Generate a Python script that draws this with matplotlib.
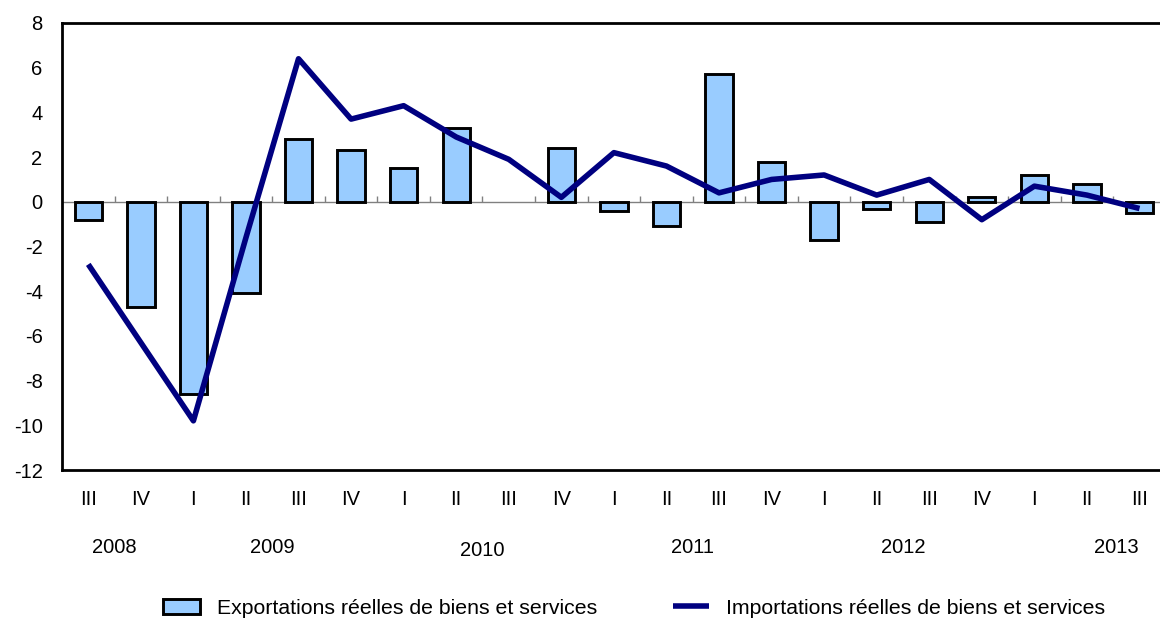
import numpy as np
import matplotlib.pyplot as plt

plt.rcParams['font.family'] = ['Liberation Sans', 'DejaVu Sans']
plt.rcParams['axes.unicode_minus'] = False

trimestres = ['III', 'IV', 'I', 'II', 'III', 'IV', 'I', 'II', 'III', 'IV', 'I',
              'II', 'III', 'IV', 'I', 'II', 'III', 'IV', 'I', 'II', 'III']
annees = ['2008', '2009', '2010', '2011', '2012', '2013']
pos_annees = [0.5, 3.5, 7.5, 11.5, 15.5, 19.55]
exportations = [-0.8, -4.7, -8.6, -4.1, 2.8, 2.3, 1.5, 3.3, 0.0, 2.4, -0.4,
                -1.1, 5.7, 1.8, -1.7, -0.3, -0.9, 0.2, 1.2, 0.8, -0.5]
importations = [-2.8, -6.3, -9.8, -1.6, 6.4, 3.7, 4.3, 2.9, 1.9, 0.2, 2.2,
                1.6, 0.4, 1.0, 1.2, 0.3, 1.0, -0.8, 0.7, 0.3, -0.3]

x = np.arange(len(trimestres))
fs = 14.5

fig = plt.figure(figsize=(11.6, 6.19), dpi=100)
ax = fig.add_axes([62 / 1160, 1 - 470 / 619, 1 - 62 / 1160, 447 / 619])

ax.axhline(0, color='#808080', lw=1, zorder=1)
ax.vlines(x[:-1] + 0.5, 0, 0.28, color='#808080', lw=1, zorder=1)

# pas de barre pour les valeurs nulles
exp = np.array(exportations)
nz = exp != 0
bars = ax.bar(x[nz], exp[nz], width=0.52, color='#99CCFF', edgecolor='black',
              linewidth=2.1, zorder=2, label='Exportations réelles de biens et services')
ligne, = ax.plot(x, importations, color='#000080', lw=4, zorder=3,
                 solid_capstyle='butt', label='Importations réelles de biens et services')

ax.set_xlim(-0.5, 20.39)
ax.set_ylim(-12, 8)
ax.set_yticks(range(-12, 9, 2))
ax.tick_params(axis='y', length=0, pad=14, labelsize=fs)
ax.set_xticks([])

for s in ['left', 'top', 'bottom']:
    ax.spines[s].set_linewidth(2)
ax.spines['right'].set_visible(False)

for i, t in enumerate(trimestres):
    ax.text(i, -13.3, t, ha='center', va='center', fontsize=fs)
for p, a in zip(pos_annees, annees):
    dy = -0.15 if a == '2010' else 0
    ax.text(p, -15.45 + dy, a, ha='center', va='center', fontsize=fs)

fig.legend(handles=[bars, ligne], loc='center', bbox_to_anchor=(0.547, 1 - 608 / 619),
           ncol=2, frameon=False, fontsize=15.3, columnspacing=3.6,
           handlelength=1.7, handletextpad=0.8)

fig.savefig('out.png', dpi=100)
